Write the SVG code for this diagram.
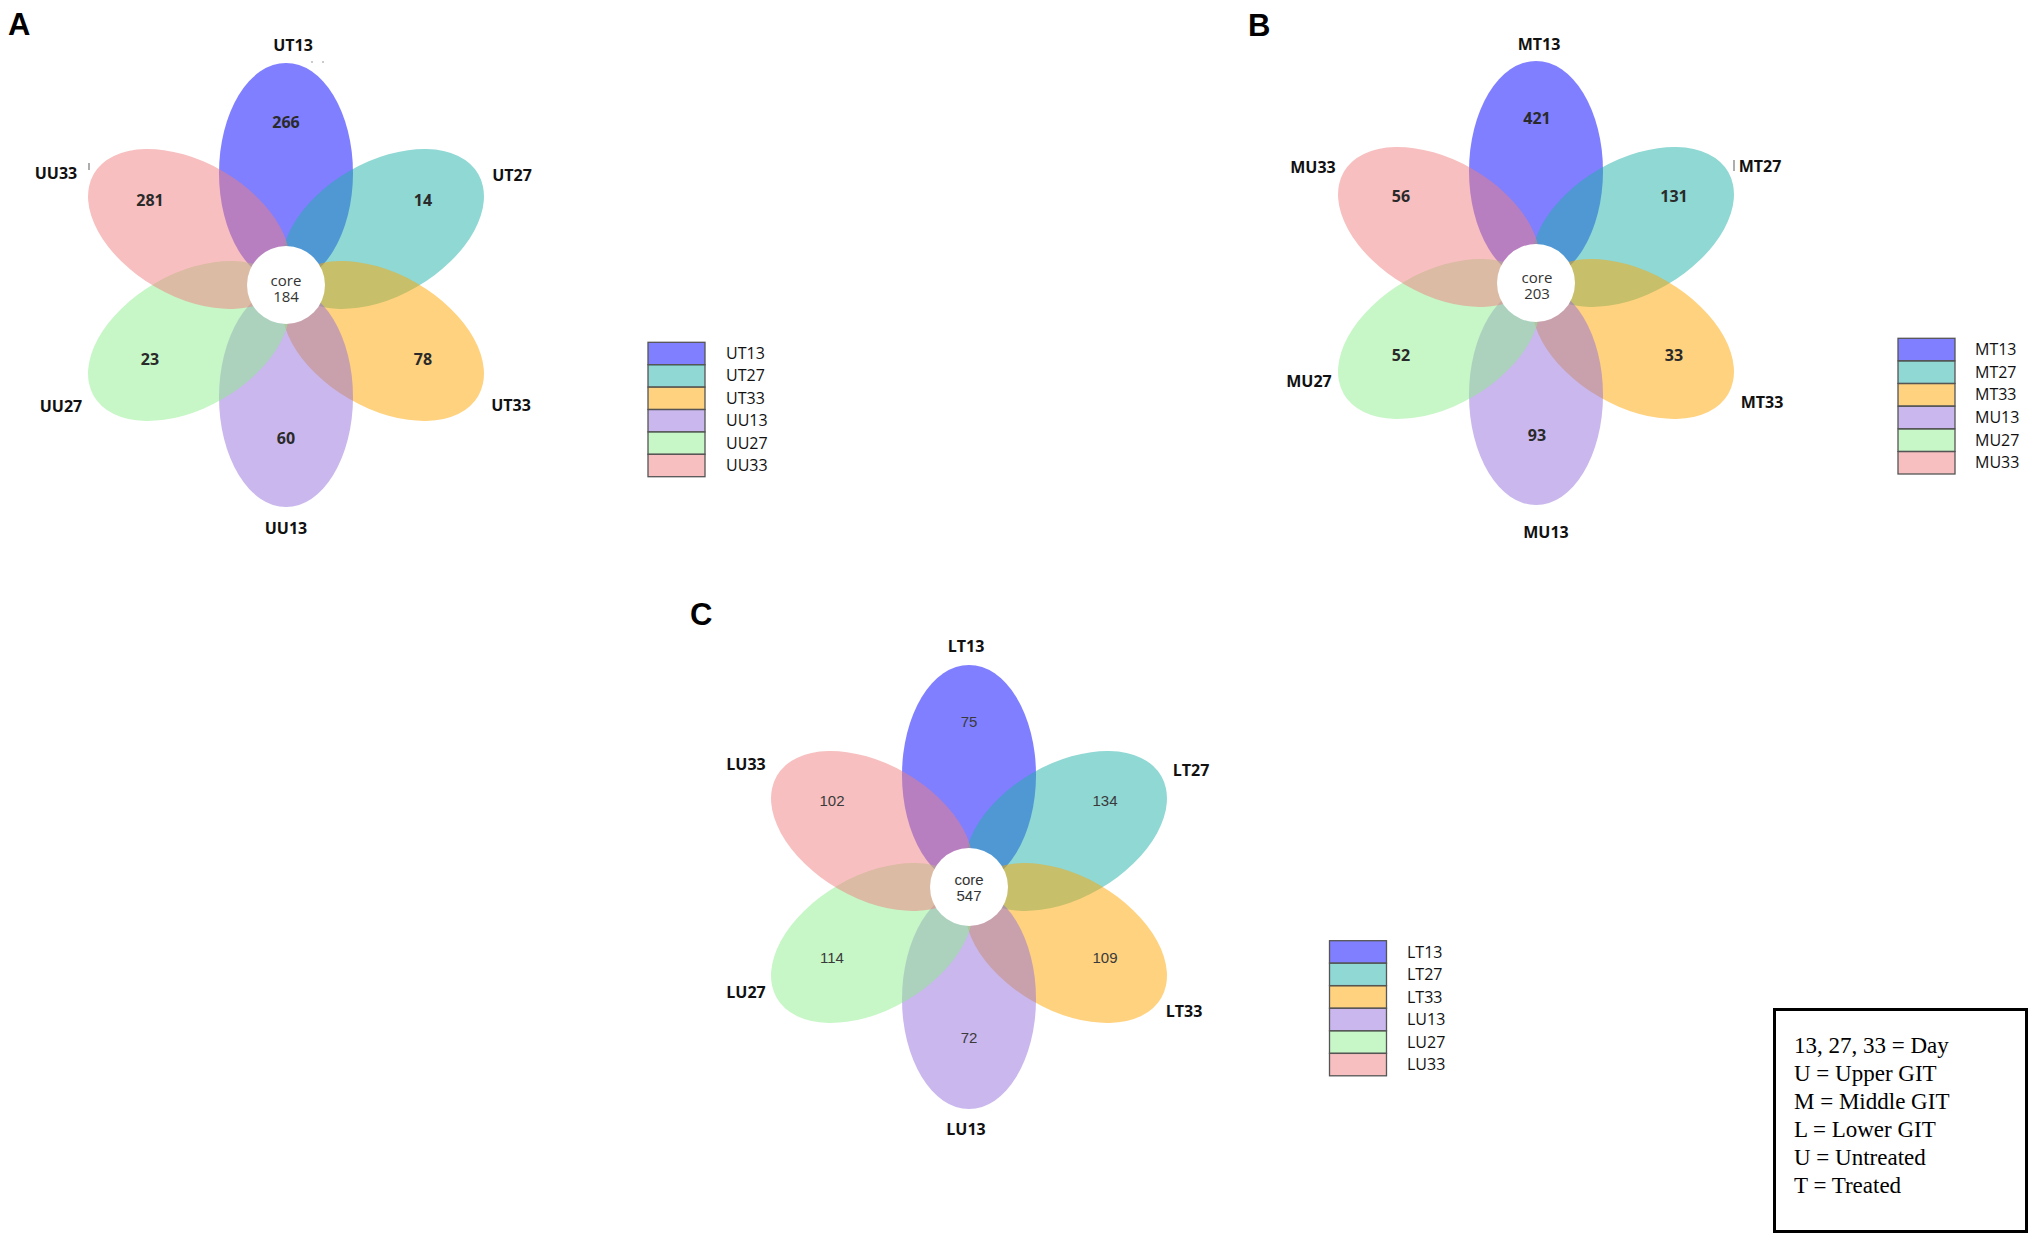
<svg xmlns="http://www.w3.org/2000/svg" xmlns:xlink="http://www.w3.org/1999/xlink" width="2033" height="1237" viewBox="0 0 2033 1237">
<style>
.c1{fill:#0000FF;fill-opacity:.5}
.c2{fill:#20B2AA;fill-opacity:.5}
.c3{fill:#FFA500;fill-opacity:.5}
.c4{fill:#9370DB;fill-opacity:.5}
.c5{fill:#90EE90;fill-opacity:.5}
.c6{fill:#F08080;fill-opacity:.5}
.core{fill:#ffffff}
.lbl{font-family:"Open Sans","Liberation Sans",sans-serif;font-weight:700;font-size:16px;fill:#111;text-anchor:middle}
.num{font-family:"Open Sans","Liberation Sans",sans-serif;font-weight:700;font-size:16px;fill:#2a2a2a;text-anchor:middle}
.numc{font-family:"Liberation Sans",Arial,sans-serif;font-size:15px;fill:#3a3a3a;text-anchor:middle}
.ct{font-family:"Open Sans","Liberation Sans",sans-serif;font-size:15px;fill:#333;text-anchor:middle}
.ctc{font-family:"Liberation Sans",Arial,sans-serif;font-size:15px;fill:#333;text-anchor:middle}
.leg{stroke:#555;stroke-width:1.3}
.legt{font-family:"Open Sans","Liberation Sans",sans-serif;font-size:16px;fill:#111}
.pan{font-family:"Liberation Sans",Arial,sans-serif;font-weight:700;font-size:31px;fill:#000}
.key{font-family:"Liberation Serif","Times New Roman",serif;font-size:23px;fill:#000}
.art{stroke:#777;stroke-width:1.2}
</style>
<defs>
<ellipse id="pet" cx="0" cy="-112" rx="67" ry="110"/>
<rect id="lb" x="0" y="0" width="57" height="22.4"/>
</defs>
<rect width="2033" height="1237" fill="#ffffff"/>

<g id="panelA">
<text class="pan" x="8" y="35">A</text>
<g id="flowerA" transform="translate(286,285)">
<use xlink:href="#pet" class="c1"/>
<use xlink:href="#pet" class="c2" transform="rotate(60)"/>
<use xlink:href="#pet" class="c3" transform="rotate(120)"/>
<use xlink:href="#pet" class="c4" transform="rotate(180)"/>
<use xlink:href="#pet" class="c5" transform="rotate(240)"/>
<use xlink:href="#pet" class="c6" transform="rotate(300)"/>
<circle class="core" r="39"/>
</g>
<text class="ct" x="286" y="286">core<tspan x="286" dy="16">184</tspan></text>
<text class="num" x="286" y="128">266</text>
<text class="num" x="150" y="206">281</text>
<text class="num" x="423" y="206">14</text>
<text class="num" x="150" y="365">23</text>
<text class="num" x="423" y="365">78</text>
<text class="num" x="286" y="444">60</text>
<text class="lbl" x="293" y="51">UT13</text>
<text class="lbl" x="512" y="181">UT27</text>
<text class="lbl" x="511" y="411">UT33</text>
<text class="lbl" x="286" y="534">UU13</text>
<text class="lbl" x="61" y="412">UU27</text>
<text class="lbl" x="56" y="179">UU33</text>
<line class="art" x1="89" y1="163" x2="89" y2="170"/>
<circle cx="312" cy="62" r="0.8" fill="#888"/>
<circle cx="323" cy="62" r="0.8" fill="#888"/>
</g>
<g id="legendA">
<use xlink:href="#lb" class="leg c1" x="648" y="342.3"/>
<use xlink:href="#lb" class="leg c2" x="648" y="364.7"/>
<use xlink:href="#lb" class="leg c3" x="648" y="387.1"/>
<use xlink:href="#lb" class="leg c4" x="648" y="409.5"/>
<use xlink:href="#lb" class="leg c5" x="648" y="431.9"/>
<use xlink:href="#lb" class="leg c6" x="648" y="454.3"/>
<text class="legt" x="726" y="359">UT13</text>
<text class="legt" x="726" y="381.4">UT27</text>
<text class="legt" x="726" y="403.8">UT33</text>
<text class="legt" x="726" y="426.2">UU13</text>
<text class="legt" x="726" y="448.6">UU27</text>
<text class="legt" x="726" y="471">UU33</text>
</g>

<g id="panelB">
<text class="pan" x="1248" y="36">B</text>
<g id="flowerB" transform="translate(1536,283)">
<use xlink:href="#pet" class="c1"/>
<use xlink:href="#pet" class="c2" transform="rotate(60)"/>
<use xlink:href="#pet" class="c3" transform="rotate(120)"/>
<use xlink:href="#pet" class="c4" transform="rotate(180)"/>
<use xlink:href="#pet" class="c5" transform="rotate(240)"/>
<use xlink:href="#pet" class="c6" transform="rotate(300)"/>
<circle class="core" r="39"/>
</g>
<text class="ct" x="1537" y="283">core<tspan x="1537" dy="16">203</tspan></text>
<text class="num" x="1537" y="124">421</text>
<text class="num" x="1401" y="202">56</text>
<text class="num" x="1674" y="202">131</text>
<text class="num" x="1401" y="361">52</text>
<text class="num" x="1674" y="361">33</text>
<text class="num" x="1537" y="441">93</text>
<text class="lbl" x="1539" y="50">MT13</text>
<text class="lbl" x="1760" y="172">MT27</text>
<text class="lbl" x="1762" y="408">MT33</text>
<text class="lbl" x="1546" y="538">MU13</text>
<text class="lbl" x="1309" y="387">MU27</text>
<text class="lbl" x="1313" y="173">MU33</text>
<line class="art" x1="1734" y1="160" x2="1734" y2="171"/>
</g>
<g id="legendB">
<use xlink:href="#lb" class="leg c1" x="1898" y="338.3"/>
<use xlink:href="#lb" class="leg c2" x="1898" y="361"/>
<use xlink:href="#lb" class="leg c3" x="1898" y="383.6"/>
<use xlink:href="#lb" class="leg c4" x="1898" y="406.3"/>
<use xlink:href="#lb" class="leg c5" x="1898" y="429"/>
<use xlink:href="#lb" class="leg c6" x="1898" y="451.6"/>
<text class="legt" x="1975" y="355">MT13</text>
<text class="legt" x="1975" y="377.7">MT27</text>
<text class="legt" x="1975" y="400.3">MT33</text>
<text class="legt" x="1975" y="423">MU13</text>
<text class="legt" x="1975" y="445.7">MU27</text>
<text class="legt" x="1975" y="468.3">MU33</text>
</g>

<g id="panelC">
<text class="pan" x="690" y="625">C</text>
<g id="flowerC" transform="translate(969,887)">
<use xlink:href="#pet" class="c1"/>
<use xlink:href="#pet" class="c2" transform="rotate(60)"/>
<use xlink:href="#pet" class="c3" transform="rotate(120)"/>
<use xlink:href="#pet" class="c4" transform="rotate(180)"/>
<use xlink:href="#pet" class="c5" transform="rotate(240)"/>
<use xlink:href="#pet" class="c6" transform="rotate(300)"/>
<circle class="core" r="39"/>
</g>
<text class="ctc" x="969" y="885">core<tspan x="969" dy="16">547</tspan></text>
<text class="numc" x="969" y="727">75</text>
<text class="numc" x="832" y="806">102</text>
<text class="numc" x="1105" y="806">134</text>
<text class="numc" x="832" y="963">114</text>
<text class="numc" x="1105" y="963">109</text>
<text class="numc" x="969" y="1043">72</text>
<text class="lbl" x="966" y="652">LT13</text>
<text class="lbl" x="1191" y="776">LT27</text>
<text class="lbl" x="1184" y="1017">LT33</text>
<text class="lbl" x="966" y="1135">LU13</text>
<text class="lbl" x="746" y="998">LU27</text>
<text class="lbl" x="746" y="770">LU33</text>
</g>
<g id="legendC">
<use xlink:href="#lb" class="leg c1" x="1329.5" y="940.7"/>
<use xlink:href="#lb" class="leg c2" x="1329.5" y="963.2"/>
<use xlink:href="#lb" class="leg c3" x="1329.5" y="985.8"/>
<use xlink:href="#lb" class="leg c4" x="1329.5" y="1008.3"/>
<use xlink:href="#lb" class="leg c5" x="1329.5" y="1030.9"/>
<use xlink:href="#lb" class="leg c6" x="1329.5" y="1053.4"/>
<text class="legt" x="1407" y="957.5">LT13</text>
<text class="legt" x="1407" y="980">LT27</text>
<text class="legt" x="1407" y="1002.5">LT33</text>
<text class="legt" x="1407" y="1025">LU13</text>
<text class="legt" x="1407" y="1047.5">LU27</text>
<text class="legt" x="1407" y="1070">LU33</text>
</g>

<g id="key">
<rect x="1774.5" y="1009.5" width="252" height="222" fill="#fff" stroke="#000" stroke-width="3"/>
<text class="key" x="1794" y="1053">13, 27, 33 = Day</text>
<text class="key" x="1794" y="1081">U = Upper GIT</text>
<text class="key" x="1794" y="1109">M = Middle GIT</text>
<text class="key" x="1794" y="1137">L = Lower GIT</text>
<text class="key" x="1794" y="1165">U = Untreated</text>
<text class="key" x="1794" y="1193">T = Treated</text>
</g>
</svg>
